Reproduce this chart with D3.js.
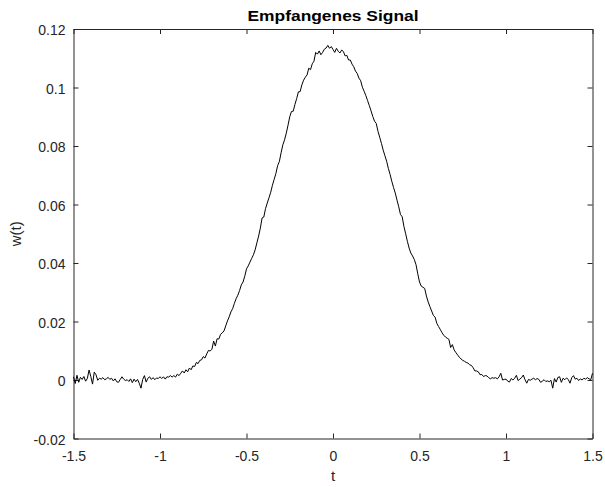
<!DOCTYPE html>
<html>
<head>
<meta charset="utf-8">
<script src="https://cdn.jsdelivr.net/npm/d3@7"></script>
<style>
  html, body { margin: 0; padding: 0; background: #ffffff; }
  svg { display: block; }
  text { font-family: "Liberation Sans", Arial, Helvetica, sans-serif; }
</style>
</head>
<body>
<div id="chart"></div>
<script>
// ---- Data ----
const tStart = -1.5;
const tStep = 0.01;
const signalValues = [
  0.0011, -0.0012, 0.0016, -0.0008, 0.0009, 0.0002, 0.0012, -0.0004, 0.0005, 0.0034,
  0.0012, -0.0014, 0.0027, 0.0018, -0.0001, 0.0006, 0.0003, 0.0008, 0.0001, 0.0004,
  0.0009, 0.0002, 0.0006, -0.0003, 0.0004, -0.0006, -0.0008, 0.0002, 0.0011, 0.0003,
  -0.0002, 0.0001, -0.0005, 0.0004, -0.0009, 0.0003, -0.0006, 0.0002, -0.0011, -0.0028,
  0.0002, 0.0015, -0.0007, 0.0006, 0.0011, 0.0002, 0.0008, 0.0001, 0.0007, 0.0005,
  0.0011, 0.0005, 0.0011, 0.0003, 0.0011, 0.0010, 0.0015, 0.0010, 0.0015, 0.0010,
  0.0020, 0.0015, 0.0023, 0.0031, 0.0024, 0.0035, 0.0028, 0.0041, 0.0035, 0.0048,
  0.0046, 0.0060, 0.0056, 0.0067, 0.0069, 0.0080, 0.0075, 0.0089, 0.0101, 0.0099,
  0.0105, 0.0133, 0.0116, 0.0141, 0.0140, 0.0156, 0.0161, 0.0168, 0.0185, 0.0202,
  0.0216, 0.0233, 0.0244, 0.0262, 0.0278, 0.0290, 0.0306, 0.0325, 0.0335, 0.0355,
  0.0380, 0.0390, 0.0403, 0.0416, 0.0428, 0.0445, 0.0469, 0.0492, 0.0519, 0.0554,
  0.0557, 0.0586, 0.0605, 0.0623, 0.0642, 0.0666, 0.0686, 0.0706, 0.0733, 0.0747,
  0.0777, 0.0804, 0.0821, 0.0844, 0.0871, 0.0900, 0.0918, 0.0919, 0.0942, 0.0962,
  0.0985, 0.0986, 0.1009, 0.1025, 0.1035, 0.1043, 0.1066, 0.1061, 0.1081, 0.1090,
  0.1120, 0.1114, 0.1125, 0.1112, 0.1120, 0.1131, 0.1135, 0.1144, 0.1134, 0.1140,
  0.1130, 0.1120, 0.1134, 0.1124, 0.1118, 0.1128, 0.1123, 0.1108, 0.1110, 0.1094,
  0.1094, 0.1080, 0.1071, 0.1056, 0.1048, 0.1032, 0.1023, 0.1001, 0.0987, 0.0972,
  0.0955, 0.0938, 0.0920, 0.0901, 0.0885, 0.0877, 0.0850, 0.0830, 0.0809, 0.0786,
  0.0767, 0.0748, 0.0723, 0.0703, 0.0679, 0.0658, 0.0639, 0.0615, 0.0592, 0.0566,
  0.0558, 0.0525, 0.0500, 0.0474, 0.0451, 0.0434, 0.0424, 0.0412, 0.0394, 0.0363,
  0.0335, 0.0321, 0.0317, 0.0313, 0.0287, 0.0267, 0.0251, 0.0236, 0.0221, 0.0215,
  0.0194, 0.0183, 0.0173, 0.0162, 0.0153, 0.0147, 0.0143, 0.0139, 0.0111, 0.0121,
  0.0103, 0.0094, 0.0086, 0.0078, 0.0072, 0.0067, 0.0064, 0.0060, 0.0058, 0.0052,
  0.0050, 0.0042, 0.0031, 0.0031, 0.0028, 0.0018, 0.0019, 0.0012, 0.0015, 0.0014,
  0.0008, 0.0004, 0.0008, 0.0006, 0.0008, 0.0004, 0.0011, 0.0023, 0.0000, 0.0002,
  0.0003, -0.0004, -0.0007, 0.0005, 0.0000, 0.0006, 0.0016, -0.0002, 0.0003, 0.0008,
  0.0017, 0.0001, -0.0011, 0.0002, -0.0001, 0.0003, 0.0006, 0.0001, 0.0005, 0.0002,
  -0.0008, -0.0004, 0.0001, -0.0005, -0.0003, -0.0006, -0.0001, -0.0028, 0.0005, -0.0007,
  0.0009, 0.0011, -0.0008, 0.0006, 0.0001, 0.0007, 0.0002, -0.0011, 0.0008, 0.0015,
  0.0003, 0.0006, -0.0002, 0.0004, 0.0000, 0.0006, 0.0003, 0.0008, 0.0004, 0.0001,
  0.0023
];
const xTicks = [-1.5, -1, -0.5, 0, 0.5, 1, 1.5];
const xTickLabels = ["-1.5", "-1", "-0.5", "0", "0.5", "1", "1.5"];
const yTicks = [-0.02, 0, 0.02, 0.04, 0.06, 0.08, 0.1, 0.12];
const yTickLabels = ["-0.02", "0", "0.02", "0.04", "0.06", "0.08", "0.1", "0.12"];
const titleText = "Empfangenes Signal";
const xLabelText = "t";
const yLabelText = "w(t)";

// ---- Layout ----
const W = 605, H = 487;
const plot = { left: 73.5, right: 592.5, top: 29, bottom: 438.5 };
const axisColor = "#262626";

const points = signalValues.map((v, i) => ({ t: tStart + i * tStep, w: v }));

const x = d3.scaleLinear().domain([-1.5, 1.5]).range([plot.left, plot.right]);
const y = d3.scaleLinear().domain([-0.02, 0.12]).range([plot.bottom, plot.top]);

const svg = d3.select("#chart").append("svg")
  .attr("width", W).attr("height", H)
  .attr("viewBox", `0 0 ${W} ${H}`);

svg.append("rect").attr("x", 0).attr("y", 0).attr("width", W).attr("height", H).attr("fill", "#ffffff");

function styleAxis(g) {
  g.selectAll("path.domain").attr("stroke", axisColor).attr("stroke-width", 1);
  g.selectAll(".tick line").attr("stroke", axisColor).attr("stroke-width", 1);
  g.selectAll(".tick text").attr("fill", axisColor).attr("font-size", "14px")
    .attr("font-family", "'Liberation Sans', Arial, Helvetica, sans-serif");
}

const xi = (v) => xTickLabels[xTicks.indexOf(v)];
const yi = (v) => yTickLabels[yTicks.findIndex(t => Math.abs(t - v) < 1e-9)];

svg.append("g").attr("transform", `translate(0,${plot.bottom})`)
  .call(d3.axisBottom(x).tickValues(xTicks).tickFormat(xi).tickSizeInner(-5).tickSizeOuter(0).tickPadding(13))
  .call(styleAxis);
svg.append("g").attr("transform", `translate(0,${plot.top})`)
  .call(d3.axisTop(x).tickValues(xTicks).tickFormat("").tickSizeInner(-5).tickSizeOuter(0))
  .call(styleAxis);
const yAxisG = svg.append("g").attr("transform", `translate(${plot.left},0)`)
  .call(d3.axisLeft(y).tickValues(yTicks).tickFormat(yi).tickSizeInner(-5).tickSizeOuter(0).tickPadding(8))
  .call(styleAxis);
yAxisG.selectAll(".tick text").attr("dy", "0.4em");
svg.append("g").attr("transform", `translate(${plot.right},0)`)
  .call(d3.axisRight(y).tickValues(yTicks).tickFormat("").tickSizeInner(-5).tickSizeOuter(0))
  .call(styleAxis);

// Signal line
const line = d3.line().x(d => x(d.t)).y(d => y(d.w));
svg.append("path").datum(points)
  .attr("d", line)
  .attr("fill", "none")
  .attr("stroke", "#000000")
  .attr("stroke-width", 1)
  .attr("stroke-linejoin", "round");

// Title and labels
svg.append("text")
  .attr("x", 333).attr("y", 21)
  .attr("text-anchor", "middle")
  .attr("font-size", "15.5px").attr("font-weight", "bold").attr("fill", "#000000")
  .attr("textLength", 171).attr("lengthAdjust", "spacingAndGlyphs")
  .text(titleText);

svg.append("text")
  .attr("x", (plot.left + plot.right) / 2).attr("y", 481)
  .attr("text-anchor", "middle")
  .attr("font-size", "15px").attr("fill", axisColor)
  .text(xLabelText);

svg.append("text")
  .attr("transform", `translate(21,${(plot.top + plot.bottom) / 2}) rotate(-90)`)
  .attr("text-anchor", "middle")
  .attr("font-size", "15px").attr("fill", axisColor)
  .text(yLabelText);
</script>
</body>
</html>
